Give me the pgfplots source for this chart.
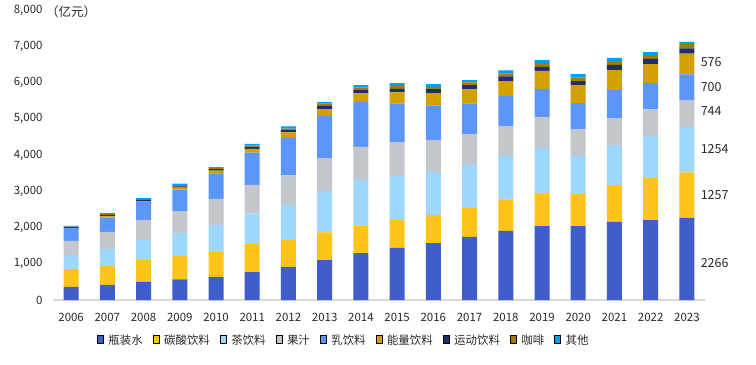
\documentclass[border=0pt]{standalone}
\usepackage{fontspec}
\setmainfont{Noto Sans CJK SC}
\usepackage{pgfplots}
\usepackage{pgfplotstable}
\pgfplotsset{compat=1.18}
\definecolor{cWater}{RGB}{63,94,204}
\definecolor{cCarb}{RGB}{255,196,25}
\definecolor{cTea}{RGB}{158,216,255}
\definecolor{cJuice}{RGB}{195,198,202}
\definecolor{cMilk}{RGB}{91,150,250}
\definecolor{cEnergy}{RGB}{212,160,0}
\definecolor{cSports}{RGB}{31,47,110}
\definecolor{cCoffee}{RGB}{168,122,0}
\definecolor{cOther}{RGB}{0,160,240}
\definecolor{cText}{RGB}{40,40,40}
\tikzset{rlab/.style={anchor=west, inner sep=1bp, font=\fontsize{12.5}{14}\selectfont, text=cText}}
\pgfplotsset{legend image code/.code={\fill[#1] (0bp,-3.5bp) rectangle (7bp,3.5bp);}}
\pgfplotstableread{
x water carb tea juice milk energy sports coffee other
0 364 496 378 395 350 5 30 5 20
1 419 524 469 469 390 35 45 20 25
2 502 607 551 552 496 20 35 20 27
3 568 643 642 599 590 55 40 35 35
4 640 689 745 717 700 75 45 25 30
5 769 781 838 789 890 100 65 30 45
6 916 744 957 819 1038 150 60 45 60
7 1100 764 1148 902 1166 185 91 66 36
8 1293 764 1258 910 1241 232 91 74 64
9 1440 772 1205 938 1067 304 99 83 74
10 1569 781 1178 882 957 339 111 63 74
11 1743 800 1186 855 838 386 119 74 64
12 1909 866 1194 835 828 405 130 82 83
13 2038 919 1232 855 781 496 111 82 102
14 2038 891 1040 744 717 497 110 102 91
15 2157 1020 1095 745 772 552 146 102 91
16 2204 1166 1159 728 733 516 146 102 83
17 2266 1257 1254 744 700 576 142 118 64
}\datatable
\begin{document}
\begin{tikzpicture}
\begin{axis}[
  at={(53bp,65bp)}, anchor=south west,
  scale only axis, width=652bp, height=290bp,
  xmin=-0.5, xmax=17.5, ymin=0, ymax=8000,
  clip=false,
  ybar stacked, bar width=15bp,
  xtick={0,...,17},
  xticklabels={2006,2007,2008,2009,2010,2011,2012,2013,2014,2015,2016,2017,2018,2019,2020,2021,2022,2023},
  ytick={0,1000,...,8000},
  scaled y ticks=false,
  yticklabel style={/pgf/number format/assume math mode=true, /pgf/number format/1000 sep={,}, xshift=-7bp},
  major tick length=0pt,
  axis lines*=left,
  y axis line style={draw=none},
  x axis line style={draw=black!15, line width=1.2bp},
  tick label style={font=\fontsize{11.5}{13}\selectfont, text=cText},
  xticklabel style={yshift=-10bp},
  legend columns=9,
  legend style={at={(0.446,-0.141)}, anchor=center, draw=none,
    font=\fontsize{11.5}{13}\selectfont, text=cText,
    /tikz/every odd column/.append style={column sep=3bp},
    /tikz/every even column/.append style={column sep=8bp}},
]
\addplot[fill=cWater, draw=none] table[x=x,y=water]{\datatable};
\addplot[fill=cCarb, draw=none] table[x=x,y=carb]{\datatable};
\addplot[fill=cTea, draw=none] table[x=x,y=tea]{\datatable};
\addplot[fill=cJuice, draw=none] table[x=x,y=juice]{\datatable};
\addplot[fill=cMilk, draw=none] table[x=x,y=milk]{\datatable};
\addplot[fill=cEnergy, draw=none] table[x=x,y=energy]{\datatable};
\addplot[fill=cSports, draw=none] table[x=x,y=sports]{\datatable};
\addplot[fill=cCoffee, draw=none] table[x=x,y=coffee]{\datatable};
\addplot[fill=cOther, draw=none] table[x=x,y=other]{\datatable};
\legend{瓶装水,碳酸饮料,茶饮料,果汁,乳饮料,能量饮料,运动饮料,咖啡,其他}
\node[rlab] at (axis cs:17.35,6561) {576};
\node[rlab] at (axis cs:17.35,5879) {700};
\node[rlab] at (axis cs:17.35,5217) {744};
\node[rlab] at (axis cs:17.35,4162) {1254};
\node[rlab] at (axis cs:17.35,2893) {1257};
\node[rlab] at (axis cs:17.35,1018) {2266};
\node[rlab, inner sep=0pt, xshift=-7bp, yshift=-2bp] at (axis cs:-0.5,8000) {（亿元）};
\end{axis}
\pgfresetboundingbox
\useasboundingbox (0,0) rectangle (756bp,365bp);
\end{tikzpicture}
\end{document}
